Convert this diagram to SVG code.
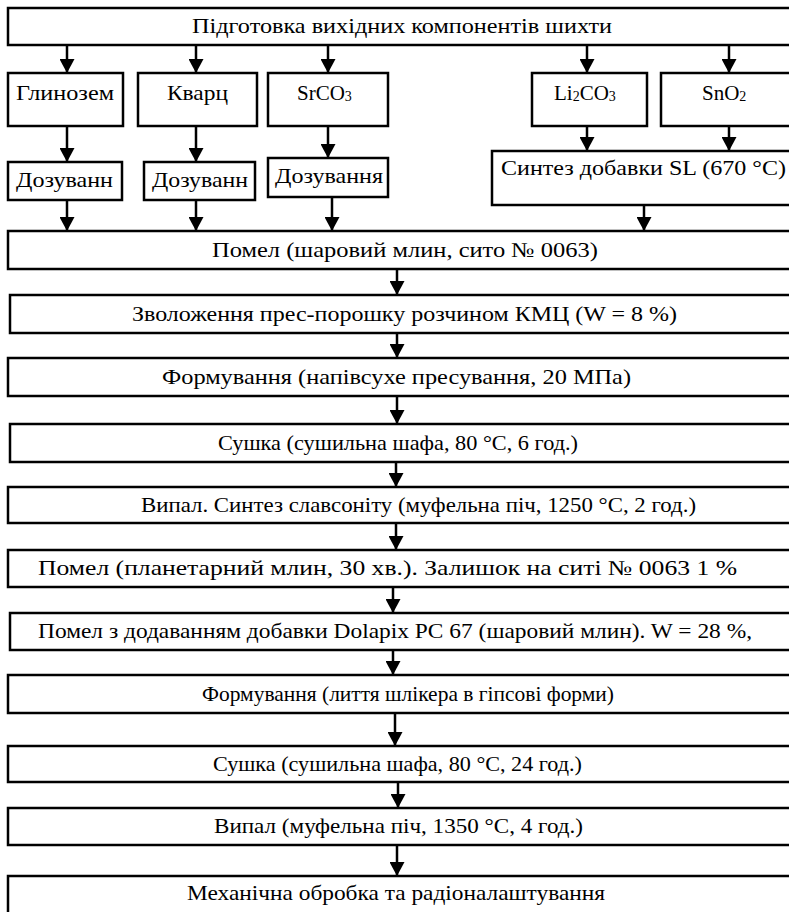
<svg xmlns="http://www.w3.org/2000/svg" width="789" height="912" viewBox="0 0 789 912">
<style>
.box{fill:#fff;stroke:#000;stroke-width:2.5}
.t{font-family:"Liberation Serif","Times New Roman",serif;font-size:21px;fill:#000}
.s{font-size:14px}
.c line{stroke:#000;stroke-width:2.5}
</style>
<defs>
<marker id="ah" markerUnits="userSpaceOnUse" markerWidth="14" markerHeight="15" viewBox="0 0 14 15" refX="14" refY="7.5" orient="auto">
<path d="M0,0 L14,7.5 L0,15 z" fill="#000"/>
</marker>
</defs>
<rect width="789" height="912" fill="#fff"/>
<g class="c">
<line x1="67" y1="45" x2="67" y2="73" marker-end="url(#ah)"/>
<line x1="196" y1="45" x2="196" y2="73" marker-end="url(#ah)"/>
<line x1="328" y1="45" x2="328" y2="73" marker-end="url(#ah)"/>
<line x1="587" y1="45" x2="587" y2="73" marker-end="url(#ah)"/>
<line x1="729" y1="45" x2="729" y2="73" marker-end="url(#ah)"/>
<line x1="67" y1="126" x2="67" y2="162" marker-end="url(#ah)"/>
<line x1="196" y1="126" x2="196" y2="162" marker-end="url(#ah)"/>
<line x1="328" y1="126" x2="328" y2="158" marker-end="url(#ah)"/>
<line x1="587" y1="126" x2="587" y2="151" marker-end="url(#ah)"/>
<line x1="729" y1="126" x2="729" y2="151" marker-end="url(#ah)"/>
<line x1="67" y1="200" x2="67" y2="231" marker-end="url(#ah)"/>
<line x1="196" y1="200" x2="196" y2="231" marker-end="url(#ah)"/>
<line x1="332" y1="197" x2="332" y2="231" marker-end="url(#ah)"/>
<line x1="644" y1="205" x2="644" y2="231" marker-end="url(#ah)"/>
<line x1="397" y1="269" x2="397" y2="295" marker-end="url(#ah)"/>
<line x1="397" y1="333" x2="397" y2="358" marker-end="url(#ah)"/>
<line x1="397" y1="396" x2="397" y2="424" marker-end="url(#ah)"/>
<line x1="396" y1="462" x2="396" y2="487" marker-end="url(#ah)"/>
<line x1="396" y1="523" x2="396" y2="550" marker-end="url(#ah)"/>
<line x1="393" y1="587" x2="393" y2="613" marker-end="url(#ah)"/>
<line x1="393" y1="650" x2="393" y2="675" marker-end="url(#ah)"/>
<line x1="395" y1="713" x2="395" y2="746" marker-end="url(#ah)"/>
<line x1="398" y1="782" x2="398" y2="808" marker-end="url(#ah)"/>
<line x1="397" y1="845" x2="397" y2="876" marker-end="url(#ah)"/>
</g>
<g id="n-top"><rect class="box" x="8" y="8" width="790" height="37"/><text class="t" x="192" y="33" textLength="420" lengthAdjust="spacingAndGlyphs">Підготовка вихідних компонентів шихти</text></g>
<g id="n-glinozem"><rect class="box" x="8" y="73" width="115" height="53"/><text class="t" x="16" y="100" textLength="98" lengthAdjust="spacingAndGlyphs">Глинозем</text></g>
<g id="n-kvarc"><rect class="box" x="138" y="73" width="119" height="53"/><text class="t" x="167" y="100" textLength="61" lengthAdjust="spacingAndGlyphs">Кварц</text></g>
<g id="n-srco3"><rect class="box" x="268" y="73" width="120" height="53"/><text class="t" x="297" y="100">SrCO<tspan class="s" dy="1">3</tspan></text></g>
<g id="n-li2co3"><rect class="box" x="532" y="73" width="115" height="53"/><text class="t" x="554" y="100">Li<tspan class="s" dy="1">2</tspan><tspan dy="-1">CO</tspan><tspan class="s" dy="1">3</tspan></text></g>
<g id="n-sno2"><rect class="box" x="661" y="73" width="140" height="53"/><text class="t" x="702" y="100">SnO<tspan class="s" dy="1">2</tspan></text></g>
<g id="n-doz1"><rect class="box" x="8" y="162" width="114" height="38"/><text class="t" x="16" y="187" textLength="97" lengthAdjust="spacingAndGlyphs">Дозуванн</text></g>
<g id="n-doz2"><rect class="box" x="144" y="162" width="111" height="38"/><text class="t" x="152" y="187" textLength="96" lengthAdjust="spacingAndGlyphs">Дозуванн</text></g>
<g id="n-doz3"><rect class="box" x="268" y="158" width="120" height="39"/><text class="t" x="275" y="183" textLength="108" lengthAdjust="spacingAndGlyphs">Дозування</text></g>
<g id="n-synth"><rect class="box" x="492" y="151" width="310" height="54"/><text class="t" x="501" y="175" textLength="285" lengthAdjust="spacingAndGlyphs">Синтез добавки SL (670 °C)</text></g>
<g id="n-pomel1"><rect class="box" x="8" y="231" width="790" height="38"/><text class="t" x="212" y="257" textLength="386" lengthAdjust="spacingAndGlyphs">Помел (шаровий млин, сито № 0063)</text></g>
<g id="n-zvol"><rect class="box" x="10" y="295" width="790" height="38"/><text class="t" x="132" y="321" textLength="545" lengthAdjust="spacingAndGlyphs">Зволоження прес-порошку розчином КМЦ (W = 8 %)</text></g>
<g id="n-form1"><rect class="box" x="8" y="358" width="790" height="38"/><text class="t" x="162" y="384" textLength="469" lengthAdjust="spacingAndGlyphs">Формування (напівсухе пресування, 20 МПа)</text></g>
<g id="n-sushka1"><rect class="box" x="10" y="424" width="790" height="38"/><text class="t" x="218" y="450" textLength="360" lengthAdjust="spacingAndGlyphs">Сушка (сушильна шафа, 80 °C, 6 год.)</text></g>
<g id="n-vypal1"><rect class="box" x="8" y="487" width="790" height="36"/><text class="t" x="141" y="512" textLength="555" lengthAdjust="spacingAndGlyphs">Випал. Синтез славсоніту (муфельна піч, 1250 °C, 2 год.)</text></g>
<g id="n-pomel2"><rect class="box" x="8" y="550" width="790" height="37"/><text class="t" x="38" y="575" textLength="699" lengthAdjust="spacingAndGlyphs">Помел (планетарний млин, 30 хв.). Залишок на ситі № 0063 1 %</text></g>
<g id="n-pomel3"><rect class="box" x="10" y="613" width="790" height="37"/><text class="t" x="38" y="638" textLength="714" lengthAdjust="spacingAndGlyphs">Помел з додаванням добавки Dolapix PC 67 (шаровий млин). W = 28 %,</text></g>
<g id="n-form2"><rect class="box" x="8" y="675" width="790" height="38"/><text class="t" x="202" y="701" textLength="412" lengthAdjust="spacingAndGlyphs">Формування (лиття шлікера в гіпсові форми)</text></g>
<g id="n-sushka2"><rect class="box" x="8" y="746" width="790" height="36"/><text class="t" x="213" y="771" textLength="369" lengthAdjust="spacingAndGlyphs">Сушка (сушильна шафа, 80 °C, 24 год.)</text></g>
<g id="n-vypal2"><rect class="box" x="8" y="808" width="790" height="37"/><text class="t" x="214" y="833" textLength="369" lengthAdjust="spacingAndGlyphs">Випал (муфельна піч, 1350 °C, 4 год.)</text></g>
<g id="n-mech"><rect class="box" x="8" y="876" width="790" height="50"/><text class="t" x="187" y="900" textLength="418" lengthAdjust="spacingAndGlyphs">Механічна обробка та радіоналаштування</text></g>
</svg>
